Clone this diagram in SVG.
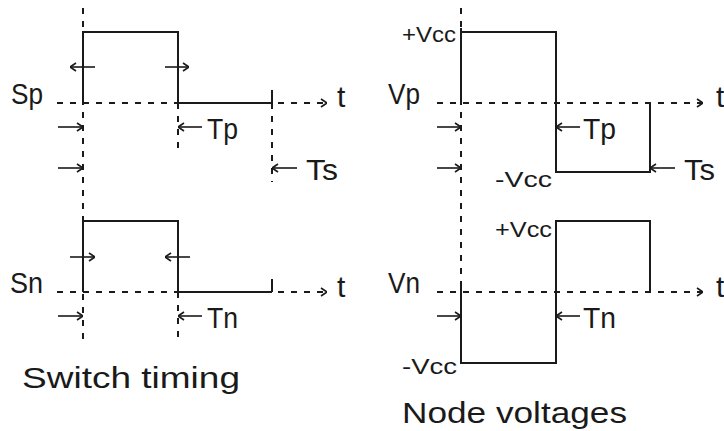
<svg xmlns="http://www.w3.org/2000/svg" width="724" height="431" viewBox="0 0 724 431">
<style>
.bg{fill:#fff}
.w{fill:none;stroke:#1a1a1a;stroke-width:2}
.d{fill:none;stroke:#1a1a1a;stroke-width:2;stroke-dasharray:6 7}
.a{fill:none;stroke:#1a1a1a;stroke-width:1.6;marker-end:url(#ah)}
.L{font-family:"Liberation Sans",Arial,sans-serif;font-size:30px;fill:#1a1a1a}
.s{font-family:"Liberation Sans",Arial,sans-serif;font-size:22px;fill:#1a1a1a}
</style>
<defs>
<marker id="ah" viewBox="0 0 10 10" refX="10" refY="5" markerWidth="10" markerHeight="10" markerUnits="userSpaceOnUse" orient="auto">
<path d="M4,1 L10,5 L4,9" fill="none" stroke="#1a1a1a" stroke-width="1.6"/>
</marker>
</defs>
<rect class="bg" x="0" y="0" width="724" height="431"/>
<g id="connectors">
<path class="d" d="M57,103 H327" marker-end="url(#ah)"/>
<path class="d" d="M57,292 H327" marker-end="url(#ah)"/>
<path class="d" d="M437,103 H703" marker-end="url(#ah)"/>
<path class="d" d="M437,292 H703" marker-end="url(#ah)"/>
<path class="d" d="M83,8 V340"/>
<path class="d" d="M178,103 V148"/>
<path class="d" d="M178,292 V338"/>
<path class="d" d="M272,103 V182"/>
<path class="d" d="M461,8 V292"/>
<path class="a" d="M95,67 H70"/>
<path class="a" d="M165,67 H189"/>
<path class="a" d="M58,127 H83"/>
<path class="a" d="M202,127 H178"/>
<path class="a" d="M58,168 H83"/>
<path class="a" d="M297,168 H272"/>
<path class="a" d="M70,257 H95"/>
<path class="a" d="M190,257 H165"/>
<path class="a" d="M58,316 H83"/>
<path class="a" d="M202,316 H178"/>
<path class="a" d="M437,127 H461"/>
<path class="a" d="M580,127 H556"/>
<path class="a" d="M437,168 H461"/>
<path class="a" d="M675,168 H650"/>
<path class="a" d="M437,316 H461"/>
<path class="a" d="M580,316 H556"/>
</g>
<g id="sp">
<path class="w" d="M83,103 V32 H178 V103 H272 M272,90 V103"/>
<text class="L" x="11" y="104" textLength="32" lengthAdjust="spacingAndGlyphs">Sp</text>
<text class="L" x="207" y="139" textLength="31" lengthAdjust="spacingAndGlyphs">Tp</text>
<text class="L" x="306" y="180" textLength="32" lengthAdjust="spacingAndGlyphs">Ts</text>
<text class="L" x="337" y="107">t</text>
</g>
<g id="sn">
<path class="w" d="M83,292 V221 H178 V292 H272 M272,279 V292"/>
<text class="L" x="10" y="293" textLength="33" lengthAdjust="spacingAndGlyphs">Sn</text>
<text class="L" x="207" y="328" textLength="31" lengthAdjust="spacingAndGlyphs">Tn</text>
<text class="L" x="337" y="297">t</text>
</g>
<g id="vp">
<path class="w" d="M461,103 V28 M461,32 H556 V172 H650 V103"/>
<text class="L" x="388" y="104" textLength="32" lengthAdjust="spacingAndGlyphs">Vp</text>
<text class="s" x="402" y="42" textLength="54" lengthAdjust="spacingAndGlyphs">+Vcc</text>
<text class="s" x="495" y="187" textLength="57" lengthAdjust="spacingAndGlyphs">-Vcc</text>
<text class="L" x="583" y="139" textLength="33" lengthAdjust="spacingAndGlyphs">Tp</text>
<text class="L" x="684" y="180" textLength="31" lengthAdjust="spacingAndGlyphs">Ts</text>
<text class="L" x="716" y="107">t</text>
</g>
<g id="vn">
<path class="w" d="M461,286 V363 H556 V221 H650 V292"/>
<text class="L" x="388" y="293" textLength="32" lengthAdjust="spacingAndGlyphs">Vn</text>
<text class="s" x="495" y="237" textLength="57" lengthAdjust="spacingAndGlyphs">+Vcc</text>
<text class="s" x="402" y="374" textLength="55" lengthAdjust="spacingAndGlyphs">-Vcc</text>
<text class="L" x="583" y="328" textLength="33" lengthAdjust="spacingAndGlyphs">Tn</text>
<text class="L" x="716" y="297">t</text>
</g>
<g id="titles">
<text class="L" x="22" y="388" font-size="32" textLength="218" lengthAdjust="spacingAndGlyphs">Switch timing</text>
<text class="L" x="402" y="423" font-size="32" textLength="225" lengthAdjust="spacingAndGlyphs">Node voltages</text>
</g>
</svg>
